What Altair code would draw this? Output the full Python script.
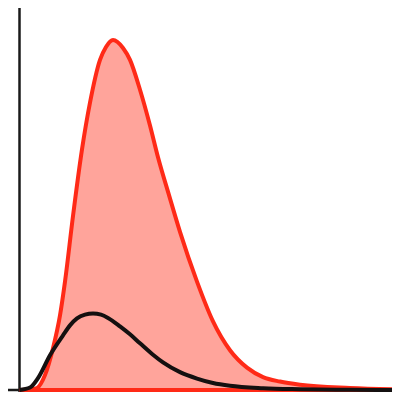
import altair as alt
import pandas as pd

# Red (filled) curve
red_x = [0, 10.5, 17.5, 25.5, 33.5, 40.5, 45.5, 53.5, 62.5, 70.5, 80.5, 86.5, 93.5, 103.5, 110.5,
         120.5, 130.5, 138.5, 149.5, 160.5, 177.5, 193.5, 210.5, 227.5, 243.5, 260.5, 280.5, 330.5, 380.5]
red_y = [0, 0.5, 2, 15, 42, 75, 109, 175, 242, 289, 332, 345, 352, 344, 332,
         302, 266, 234, 196, 159, 109, 69, 40, 22.5, 13, 8.5, 5.3, 2, 0.5]

# Black curve
black_x = [0, 10.5, 18.5, 30.5, 43.5, 50.5, 57.5, 65.5, 73.5, 81.5, 88.5, 100.5, 110.5, 120.5,
           133.5, 143.5, 160.5, 177.5, 193.5, 210.5, 243.5, 280.5, 330.5, 380.5]
black_y = [0, 2.5, 12, 35, 55, 65, 72, 75.8, 77, 75.8, 72.5, 64, 56, 47,
           35.5, 27.8, 18, 11.5, 7, 4.2, 1.8, 0.8, 0.2, 0]

red_df = pd.DataFrame({"x": red_x, "y": red_y})
black_df = pd.DataFrame({"x": black_x, "y": black_y})
axis_df = pd.DataFrame({"v": [0.0]})

xs = alt.Scale(domain=[-11.5, 372.5], nice=False, zero=False)
ys = alt.Scale(domain=[-2.01, 384.2], nice=False, zero=False)

vrule = alt.Chart(axis_df).mark_rule(color="#1a1a1a", strokeWidth=2.5).encode(
    x=alt.X("v:Q", scale=xs, axis=None)
)
hrule = alt.Chart(axis_df).mark_rule(color="#1a1a1a", strokeWidth=2.5).encode(
    y=alt.Y("v:Q", scale=ys, axis=None)
)

red_area = alt.Chart(red_df).mark_area(
    fill="#ffa49b", stroke="#ff2a17", strokeWidth=4, interpolate="monotone",
    fillOpacity=1, clip=True
).encode(
    x=alt.X("x:Q", scale=xs, axis=None),
    y=alt.Y("y:Q", scale=ys, axis=None),
    y2=alt.datum(0),
)

black_line = alt.Chart(black_df).mark_line(
    color="#141010", strokeWidth=4, interpolate="monotone", clip=True
).encode(
    x=alt.X("x:Q", scale=xs, axis=None),
    y=alt.Y("y:Q", scale=ys, axis=None),
)

chart = alt.layer(vrule, hrule, red_area, black_line).properties(
    width=384, height=384, padding=0, autosize=alt.AutoSizeParams(type="none"),
    background="white"
).configure_view(stroke=None)

chart.save("out.html", embed_options={"renderer": "svg", "actions": False})
